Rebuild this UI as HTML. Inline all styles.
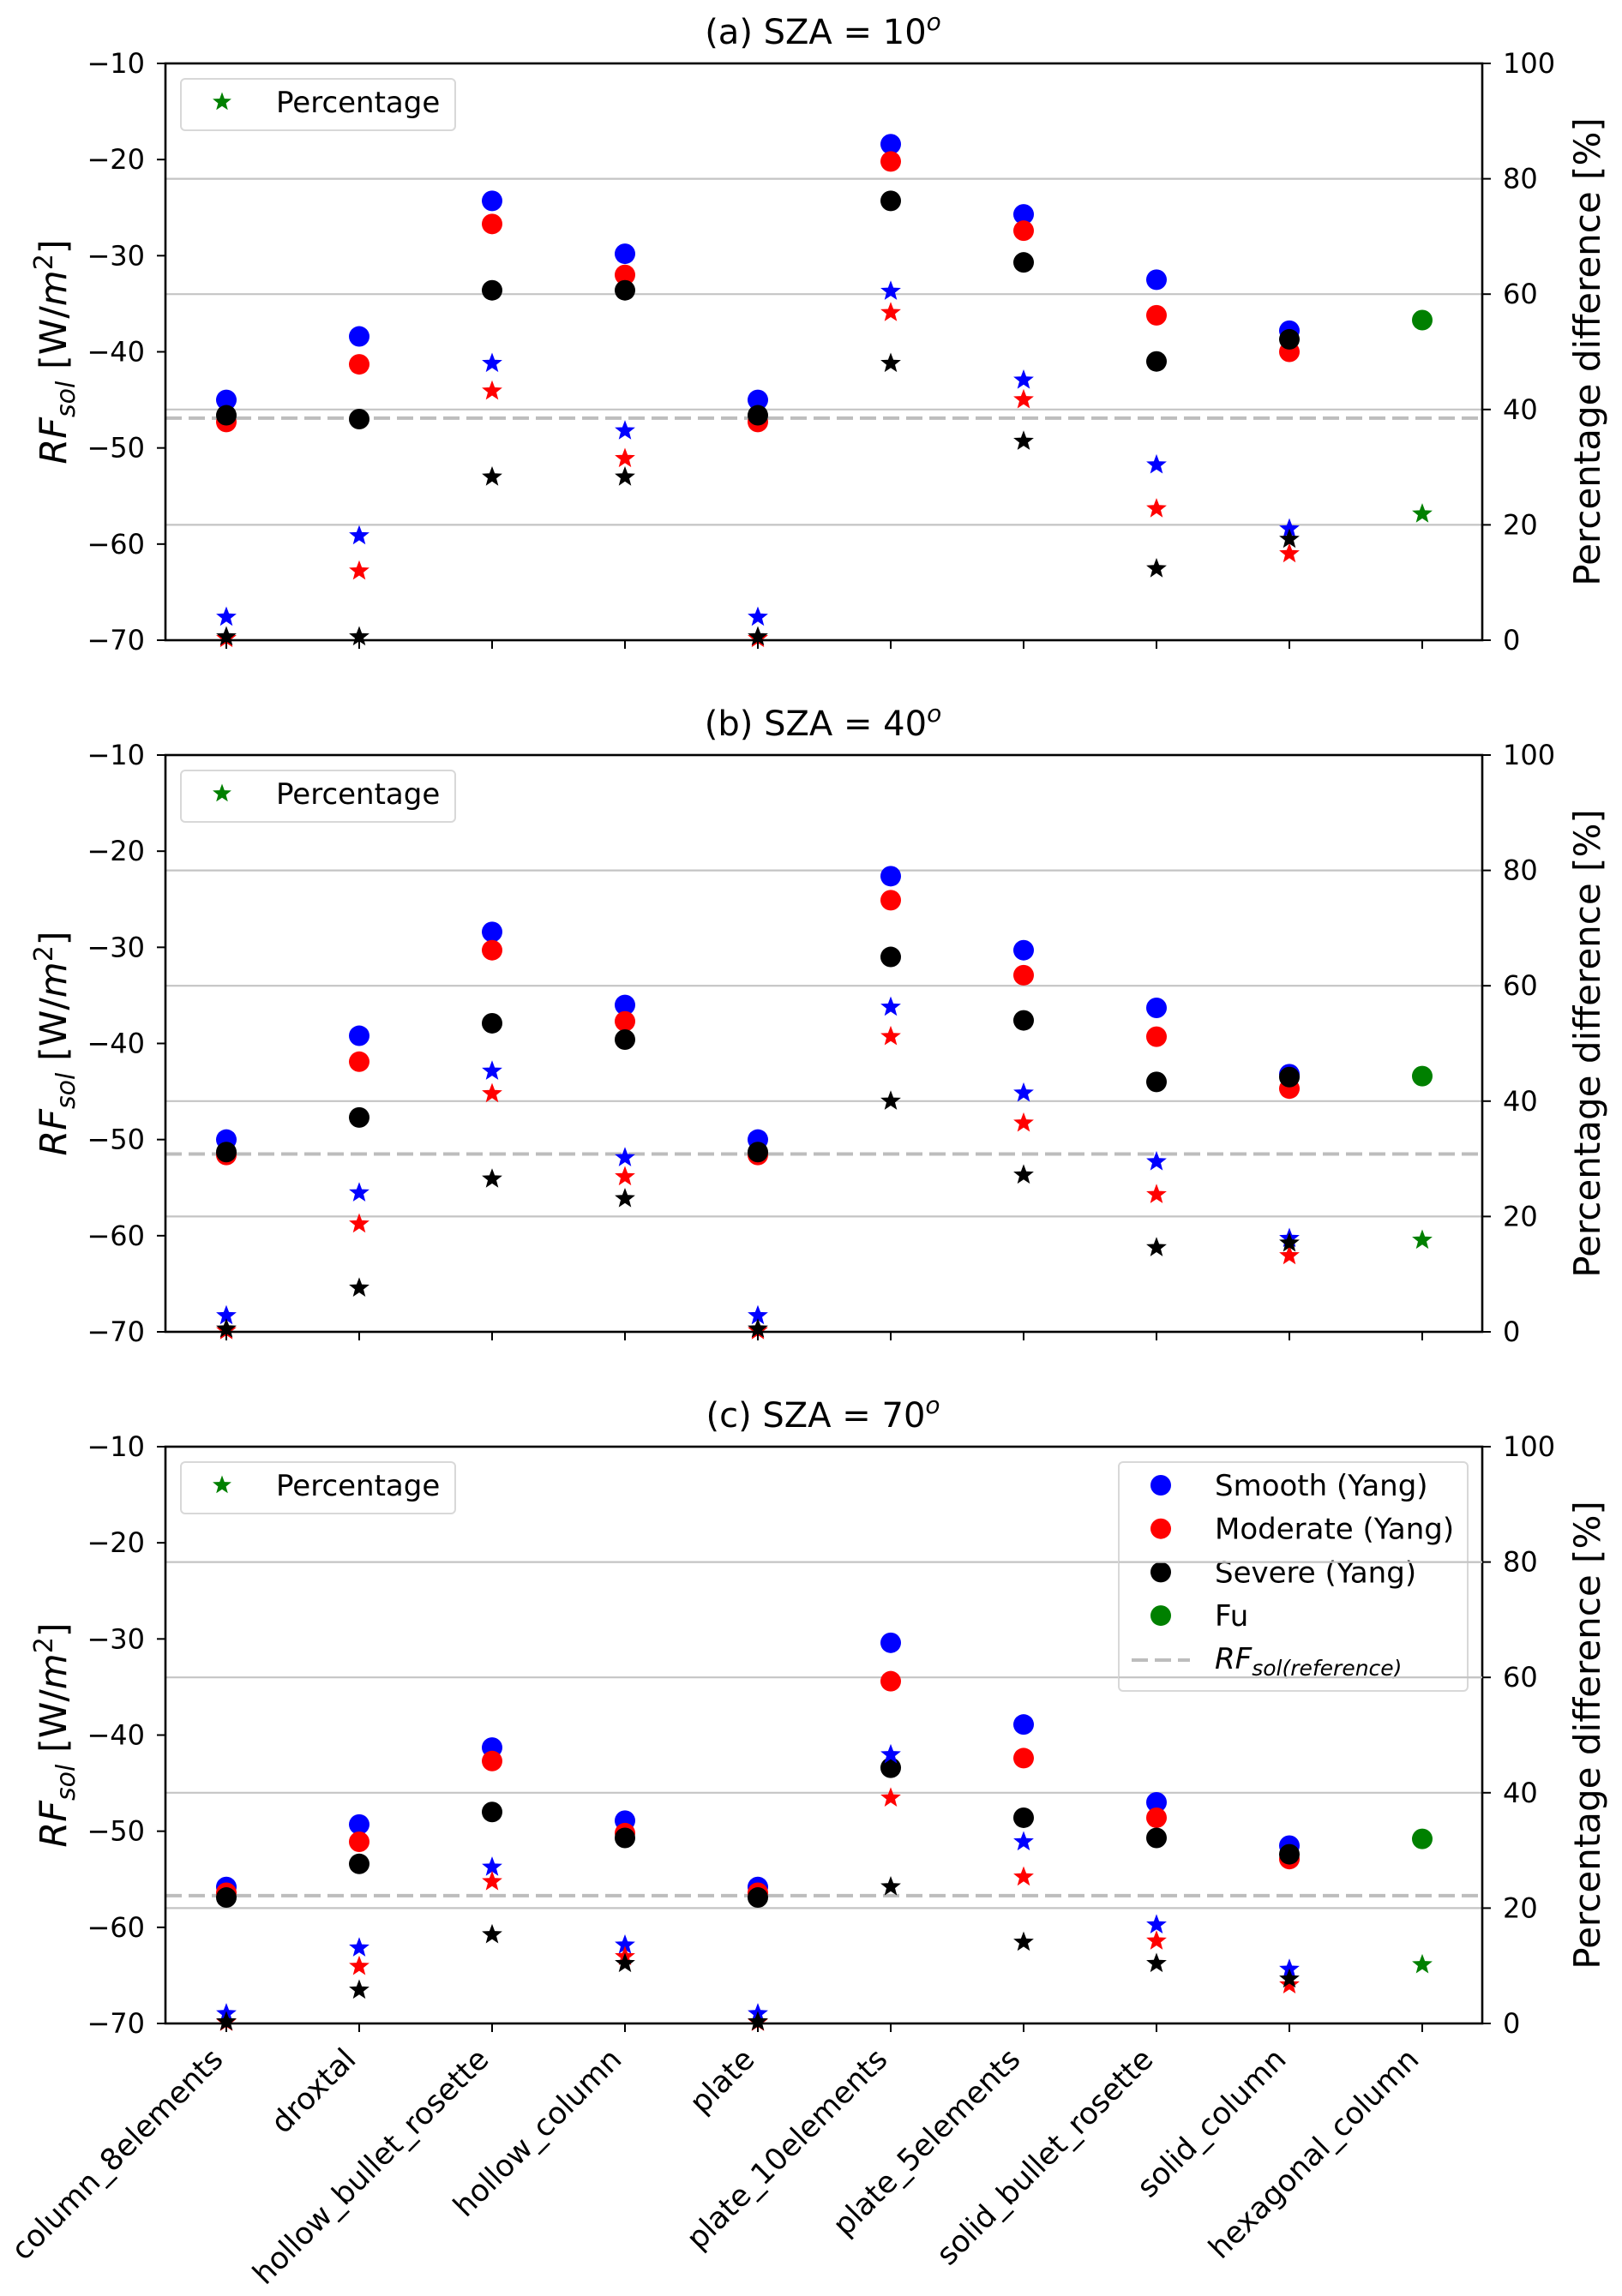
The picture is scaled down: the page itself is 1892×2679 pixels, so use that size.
<!DOCTYPE html>
<html><head><meta charset="utf-8">
<style>
html,body{margin:0;padding:0;background:#fff;}
svg{display:block;font-family:"DejaVu Sans","Liberation Sans",sans-serif;}
</style></head>
<body>
<svg id="chart" xmlns="http://www.w3.org/2000/svg" width="1892" height="2679" viewBox="0 0 1892 2679"></svg>
<script>
// ---- data ----
const categories = ["column_8elements","droxtal","hollow_bullet_rosette","hollow_column","plate","plate_10elements","plate_5elements","solid_bullet_rosette","solid_column","hexagonal_column"];
const panelTitles = ["(a) SZA = 10","(b) SZA = 40","(c) SZA = 70"];
const leftTicks = [-10,-20,-30,-40,-50,-60,-70];
const rightTicks = [0,20,40,60,80,100];
const gridPct = [20,40,60,80];

const smoothA = [-45.0,-38.4,-24.3,-29.8,-45.0,-18.4,-25.7,-32.5,-37.8,null];
const moderateA = [-47.3,-41.3,-26.7,-32.0,-47.3,-20.2,-27.4,-36.2,-40.0,null];
const severeA = [-46.6,-47.0,-33.6,-33.6,-46.6,-24.3,-30.7,-41.0,-38.7,null];
const fuA = [null,null,null,null,null,null,null,null,null,-36.7];
const pctSmoothA = [4.0,18.1,48.0,36.3,4.0,60.5,45.1,30.4,19.3,null];
const pctModerateA = [0.3,12.0,43.2,31.5,0.3,56.8,41.7,22.8,15.0,null];
const pctSevereA = [0.6,0.6,28.3,28.3,0.6,48.0,34.5,12.4,17.5,null];
const pctFuA = [null,null,null,null,null,null,null,null,null,21.9];
const refA = -46.9;

const smoothB = [-50.0,-39.2,-28.4,-36.0,-50.0,-22.6,-30.3,-36.3,-43.2,null];
const moderateB = [-51.6,-41.9,-30.3,-37.7,-51.6,-25.1,-32.9,-39.3,-44.7,null];
const severeB = [-51.3,-47.7,-37.9,-39.6,-51.3,-31.0,-37.6,-44.0,-43.5,null];
const fuB = [null,null,null,null,null,null,null,null,null,-43.4];
const pctSmoothB = [2.8,24.1,45.2,30.2,2.8,56.3,41.4,29.5,16.2,null];
const pctModerateB = [0.2,18.7,41.3,26.9,0.2,51.2,36.2,23.8,13.2,null];
const pctSevereB = [0.5,7.6,26.5,23.1,0.5,40.0,27.2,14.6,15.4,null];
const pctFuB = [null,null,null,null,null,null,null,null,null,15.9];
const refB = -51.5;

const smoothC = [-55.8,-49.3,-41.3,-48.9,-55.8,-30.4,-38.9,-47.0,-51.5,null];
const moderateC = [-56.4,-51.1,-42.7,-50.2,-56.4,-34.4,-42.4,-48.6,-52.9,null];
const severeC = [-56.9,-53.4,-48.0,-50.7,-56.9,-43.4,-48.6,-50.7,-52.4,null];
const fuC = [null,null,null,null,null,null,null,null,null,-50.8];
const pctSmoothC = [1.7,13.1,27.1,13.6,1.7,46.6,31.5,17.1,9.4,null];
const pctModerateC = [0.2,9.9,24.6,11.6,0.2,39.1,25.4,14.3,6.7,null];
const pctSevereC = [0.3,5.8,15.4,10.4,0.3,23.7,14.1,10.4,7.7,null];
const pctFuC = [null,null,null,null,null,null,null,null,null,10.2];
const refC = -56.7;

const panels = [
 {title:panelTitles[0], s:smoothA,m:moderateA,v:severeA,f:fuA, ps:pctSmoothA,pm:pctModerateA,pv:pctSevereA,pf:pctFuA, ref:refA},
 {title:panelTitles[1], s:smoothB,m:moderateB,v:severeB,f:fuB, ps:pctSmoothB,pm:pctModerateB,pv:pctSevereB,pf:pctFuB, ref:refB},
 {title:panelTitles[2], s:smoothC,m:moderateC,v:severeC,f:fuC, ps:pctSmoothC,pm:pctModerateC,pv:pctSevereC,pf:pctFuC, ref:refC}
];

// ---- layout ----
const NS = "http://www.w3.org/2000/svg";
const svg = document.getElementById("chart");
const L = 193, R = 1729, H = 673;
const tops = [74, 881, 1688];
const xOf = i => 264 + 155 * i;

function el(tag, attrs, parent, text){
  const e = document.createElementNS(NS, tag);
  for (const k in attrs) e.setAttribute(k, attrs[k]);
  if (text !== undefined) e.textContent = text;
  (parent || svg).appendChild(e);
  return e;
}
function starPts(cx, cy, ro){
  const ri = ro * 0.42; let p = [];
  for (let k = 0; k < 10; k++){
    const a = -Math.PI/2 + k*Math.PI/5; const r = k%2 ? ri : ro;
    p.push((cx + r*Math.cos(a)).toFixed(1) + "," + (cy + r*Math.sin(a)).toFixed(1));
  }
  return p.join(" ");
}

panels.forEach((P, pi) => {
  const T = tops[pi], B = T + H;
  const yL = v => T + (-10 - v) / 60 * H;
  const yR = v => B - v / 100 * H;
  const g = el("g", {}, svg);
  
  

  const t = el("text", {x: 960, y: T - 23, "text-anchor":"middle", "font-size":"40"}, g);
  
  
  el("tspan", {}, t, P.title);
  el("tspan", {"font-style":"italic", "font-size":"28", dy:"-16"}, t, "o");

  gridPct.forEach(v => {
    const ln = el("line", {x1:L, x2:R, y1:yR(v), y2:yR(v), stroke:"#c4c4c4", "stroke-width":"2.2"}, g);
    
    
  });
  const rl = el("line", {x1:L, x2:R, y1:yL(P.ref), y2:yL(P.ref), stroke:"#bdbdbd", "stroke-width":"4", "stroke-dasharray":"19,8"}, g);
  
  

  const series = [[P.s,"#0000ff","smooth"],[P.m,"#ff0000","moderate"],[P.v,"#000000","severe"],[P.f,"#008000","fu"]];
  series.forEach(([arr,col,nm]) => arr.forEach((v,i) => {
    if (v === null) return;
    const c = el("circle", {cx:xOf(i), cy:yL(v), r:12, fill:col}, g);
    
    
  }));
  const sseries = [[P.ps,"#0000ff","smooth"],[P.pm,"#ff0000","moderate"],[P.pv,"#000000","severe"],[P.pf,"#008000","fu"]];
  sseries.forEach(([arr,col,nm]) => arr.forEach((v,i) => {
    if (v === null) return;
    const s = el("polygon", {points:starPts(xOf(i), yR(v), 12.5), fill:col}, g);
    
    
  }));

  const fr = el("rect", {x:L, y:T, width:R-L, height:H, fill:"none", stroke:"#000", "stroke-width":"2.6"}, g);
  
  

  leftTicks.forEach(v => {
    el("line", {x1:L-10, x2:L, y1:yL(v), y2:yL(v), stroke:"#000", "stroke-width":"2"}, g);
    const tl = el("text", {x:L-24, y:yL(v)+11, "text-anchor":"end", "font-size":"32"}, g, "\u2212" + Math.abs(v));
    
    
  });
  rightTicks.forEach(v => {
    el("line", {x1:R, x2:R+10, y1:yR(v), y2:yR(v), stroke:"#000", "stroke-width":"2"}, g);
    const tr = el("text", {x:R+24, y:yR(v)+11, "font-size":"32"}, g, String(v));
    
    
  });
  categories.forEach((c,i) => {
    el("line", {x1:xOf(i), x2:xOf(i), y1:B, y2:B+10, stroke:"#000", "stroke-width":"2"}, g);
  });

  const yl = el("text", {transform:`translate(77,${T+H/2}) rotate(-90)`, "text-anchor":"middle", "font-size":"43"}, g);
  
  
  el("tspan", {"font-style":"italic"}, yl, "RF");
  el("tspan", {"font-style":"italic", "font-size":"30", dy:"10"}, yl, "sol");
  el("tspan", {dy:"-10"}, yl, " [W/");
  el("tspan", {"font-style":"italic"}, yl, "m");
  el("tspan", {"font-size":"30", dy:"-16"}, yl, "2");
  el("tspan", {dy:"16"}, yl, "]");

  const rlab = el("text", {transform:`translate(1866,${T+H/2}) rotate(-90)`, "text-anchor":"middle", "font-size":"42"}, g, "Percentage difference [%]");
  
  

  const lg = el("g", {}, g);
  
  
  el("rect", {x:211, y:T+18, width:320, height:60, rx:5, fill:"#fff", stroke:"#d8d8d8", "stroke-width":"2"}, lg);
  el("polygon", {points:starPts(259, T+45, 11.5), fill:"#008000"}, lg);
  el("text", {x:322, y:T+57, "font-size":"34"}, lg, "Percentage");

  if (pi === 2){
    categories.forEach((c,i) => {
      const xl = el("text", {transform:`translate(${xOf(i)-2},${B+44}) rotate(-45)`, "text-anchor":"end", "font-size":"35"}, g, c);
      
      
    });
    const ml = el("g", {}, g);
    
    
    el("rect", {x:1305, y:1706, width:407, height:267, rx:5, fill:"#fff", "fill-opacity":"0.8", stroke:"#d8d8d8", "stroke-width":"2"}, ml);
    const names = ["Smooth (Yang)","Moderate (Yang)","Severe (Yang)","Fu"];
    const cols = ["#0000ff","#ff0000","#000000","#008000"];
    names.forEach((n,k) => {
      const cy = 1733 + k*50.7;
      el("circle", {cx:1354, cy:cy, r:12, fill:cols[k]}, ml);
      el("text", {x:1417, y:cy+12, "font-size":"34"}, ml, n);
    });
    el("line", {x1:1320, x2:1388, y1:1937, y2:1937, stroke:"#bdbdbd", "stroke-width":"4", "stroke-dasharray":"19,8"}, ml);
    const rt = el("text", {x:1417, y:1947, "font-size":"34"}, ml);
    el("tspan", {"font-style":"italic"}, rt, "RF");
    el("tspan", {"font-style":"italic", "font-size":"25", dy:"8"}, rt, "sol(reference)");
    gridPct.forEach(v => {
      if (yR(v) > 1706 && yR(v) < 1973)
        el("line", {x1:1305, x2:R, y1:yR(v), y2:yR(v), stroke:"#c4c4c4", "stroke-width":"2.2"}, g);
    });
  }
});
</script>
</body></html>
